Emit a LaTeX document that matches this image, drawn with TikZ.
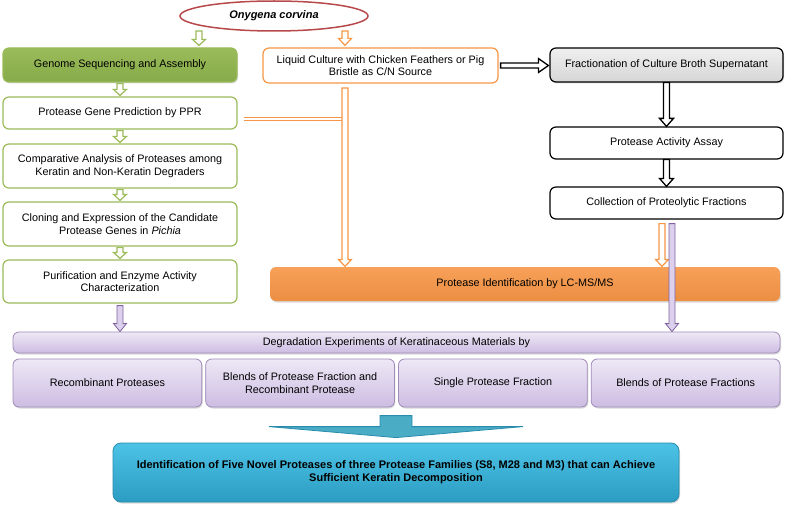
\documentclass[tikz,border=0pt]{standalone}
\usepackage{fontspec}
\setmainfont{Liberation Sans}
\usetikzlibrary{calc,shadows,shapes.geometric}

\definecolor{grn}{HTML}{9BBB59}
\definecolor{grndark}{HTML}{86AB4A}
\definecolor{org}{HTML}{F79646}
\definecolor{ocred}{HTML}{B8494A}
\definecolor{pur}{HTML}{8064A2}
\definecolor{purtop}{HTML}{EEE8F6}
\definecolor{purbot}{HTML}{CDBDE2}
\definecolor{purfill}{HTML}{DCD0EC}
\definecolor{cyantop}{HTML}{4CC3E6}
\definecolor{cyanbot}{HTML}{2C9CC2}
\definecolor{cyanline}{HTML}{2A8CAD}
\definecolor{teal}{HTML}{4BACC6}

\begin{document}
\begin{tikzpicture}[x=1pt,y=-1pt,font=\fontsize{10.8}{12.6}\selectfont,
  box/.style={rectangle,rounded corners=6pt,draw,align=center,line width=1.2pt,inner sep=2pt},
  shade/.style={drop shadow={opacity=0.3,shadow xshift=1pt,shadow yshift=-1.5pt}},
  green box/.style={box,draw=grn,fill=white,minimum width=234pt},
  black box/.style={box,draw=black,fill=white,minimum width=233pt,minimum height=32pt},
  purple box/.style={box,draw=pur!75,line width=0.8pt,top color=purtop,bottom color=purbot,shade},
  blockdown/.style n args={3}{to path={let \p1=(\tikztostart),\p2=(\tikztotarget) in
    (\x1-#1,\y1) -- (\x1-#1,\y2+#3) -- (\x1-#2,\y2+#3) -- (\x1,\y2)
    -- (\x1+#2,\y2+#3) -- (\x1+#1,\y2+#3) -- (\x1+#1,\y1) -- cycle}},
  blockright/.style n args={3}{to path={let \p1=(\tikztostart),\p2=(\tikztotarget) in
    (\x1,\y1-#1) -- (\x2-#3,\y1-#1) -- (\x2-#3,\y1-#2) -- (\x2,\y1)
    -- (\x2-#3,\y1+#2) -- (\x2-#3,\y1+#1) -- (\x1,\y1+#1) -- cycle}},
  garrow/.style={draw=grn,line width=1.2pt,fill=white,blockdown={3pt}{6.5pt}{6pt}},
  oarrow/.style={draw=org,line width=1.2pt,fill=white,blockdown={3pt}{6.5pt}{7pt}},
  karrow/.style={draw=black,line width=1.3pt,fill=white,blockdown={3pt}{7pt}{8pt}},
  parrow/.style={draw=pur,line width=0.8pt,fill=purfill,blockdown={3pt}{6.5pt}{8pt}},
  oline/.style={draw=org,line width=1.2pt,double=white,double distance=2.5pt}]
  \useasboundingbox (0,0) rectangle (787,508);

  % source organism
  \node[ellipse,draw=ocred,line width=1.5pt,fill=white,minimum width=188pt,minimum height=30pt,
    font=\fontsize{11}{12}\selectfont\bfseries\itshape] (oc) at (274,16) {Onygena corvina};

  % genome branch
  \node[green box,top color=grn,bottom color=grndark,minimum height=34pt,shade] (genome) at (120,65) {Genome Sequencing and Assembly};
  \node[green box,minimum height=32pt] (ppr) at (120,113) {Protease Gene Prediction by PPR};
  \node[green box,minimum height=44pt] (comp) at (120,166) {Comparative Analysis of Proteases among\\Keratin and Non-Keratin Degraders};
  \node[green box,minimum height=44pt] (clone) at (120,224) {Cloning and Expression of the Candidate\\Protease Genes in \textit{Pichia}};
  \node[green box,minimum height=43pt] (purif) at (120,281.5) {Purification and Enzyme Activity\\Characterization};

  % culture branch
  \node[box,draw=org,fill=white,minimum width=235pt,minimum height=35pt] (liquid) at (380.5,65.5) {Liquid Culture with Chicken Feathers or Pig\\Bristle as C/N Source};
  \node[black box,top color=gray!12,bottom color=gray!32,minimum height=34pt,shade] (frac) at (666.5,65) {Fractionation of Culture Broth Supernatant};
  \node[black box] (assay) at (666.5,143) {Protease Activity Assay};
  \node[black box] (coll) at (666.5,203) {Collection of Proteolytic Fractions};
  \node[box,draw=none,top color=org!90!white,bottom color=org!95!black,minimum width=510pt,minimum height=34pt,shade] (lcms) at (525,284) {Protease Identification by LC-MS/MS};

  % degradation experiments
  \node[purple box,minimum width=767pt,minimum height=21pt] (degr) at (396.5,342.5) {Degradation Experiments of Keratinaceous Materials by};
  \node[purple box,minimum width=188.75pt,minimum height=48pt] (rec) at (107.4,383) {Recombinant Proteases};
  \node[purple box,minimum width=188.75pt,minimum height=48pt] (blend) at (300.1,383) {Blends of Protease Fraction and\\Recombinant Protease};
  \node[purple box,minimum width=188.75pt,minimum height=48pt] (single) at (492.9,383) {Single Protease Fraction};
  \node[purple box,minimum width=188.75pt,minimum height=48pt] (blends) at (685.6,383) {Blends of Protease Fractions};

  \node[box,draw=cyanline,line width=0.8pt,rounded corners=8pt,top color=cyantop,bottom color=cyanbot,
    minimum width=566pt,minimum height=59pt,font=\fontsize{11}{13}\selectfont\bfseries,shade] (final) at (396,472.5)
    {Identification of Five Novel Proteases of three Protease Families (S8, M28 and M3) that can Achieve\\Sufficient Keratin Decomposition};

  \coordinate (g0) at (199,31);
  \coordinate (o0) at (345,31);
  \coordinate (c0) at (345,88);
  \coordinate (t0) at ($(ppr.east)+(6,6)$);
  \coordinate (o1) at ($(coll.south)+(-4.5,4)$);
  \coordinate (p1) at ($(coll.south)+(5.5,4)$);
  \coordinate (p0) at ($(purif.south)+(0,2)$);

  \draw[garrow] (g0) to ($(g0 |- genome.north)+(0,-2)$);
  \draw[oarrow] (o0) to ($(o0 |- liquid.north)+(0,-2)$);
  \draw[garrow] ([yshift=-1pt]genome.south) to ([yshift=1pt]ppr.north);
  \draw[garrow] ([yshift=-1pt]ppr.south) to ([yshift=1pt]comp.north);
  \draw[garrow] ([yshift=-1pt]comp.south) to ([yshift=1pt]clone.north);
  \draw[garrow] ([yshift=-1pt]clone.south) to ([yshift=1pt]purif.north);

  \draw[draw=black,line width=1.3pt,fill=white,blockright={2.5pt}{7pt}{10pt}] ([xshift=2pt]liquid.east) to ([xshift=-1pt]frac.west);
  \draw[karrow] (frac.south) to (assay.north);
  \draw[karrow] (assay.south) to (coll.north);

  \draw[oline] (t0) -- (t0 -| c0);
  \draw[oarrow] (c0) to (c0 |- lcms.north);
  \draw[oarrow] (o1) to (o1 |- lcms.north);

  \draw[parrow] (p0) to (p0 |- degr.north);
  \draw[parrow] (p1) to (p1 |- degr.north);

  % summary arrow
  \draw[draw=cyanline,line width=0.8pt,fill=teal] (final.north) ++(-16,-27) -- ++(0,11) -- ++(-111,0)
    -- ++(127,11) -- ++(127,-11) -- ++(-111,0) -- ++(0,-11) -- cycle;
\end{tikzpicture}
\end{document}
